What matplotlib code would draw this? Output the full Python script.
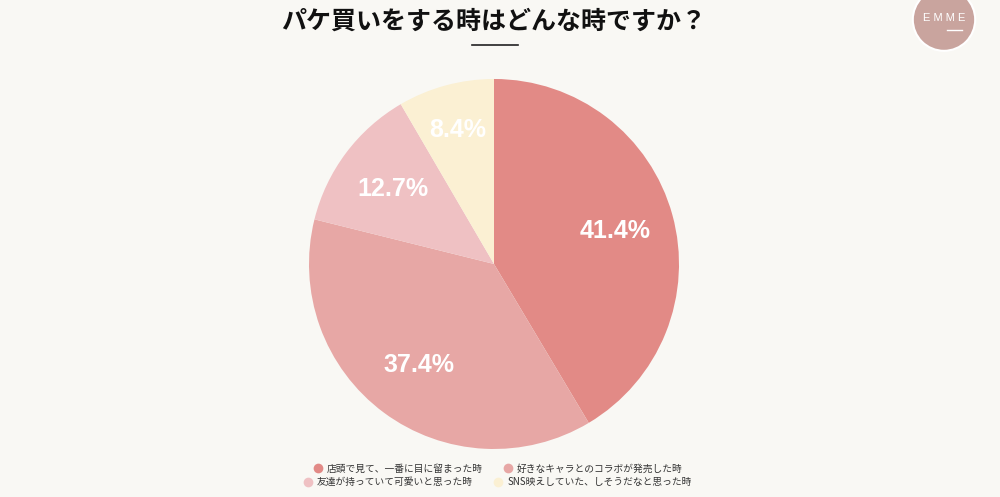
import numpy as np
import matplotlib.pyplot as plt
from matplotlib.lines import Line2D
from matplotlib.patches import Circle

plt.rcParams['font.family'] = ['Noto Sans CJK JP', 'DejaVu Sans']

title = 'パケ買いをする時はどんな時ですか？'
labels = ['店頭で見て、一番に目に留まった時', '好きなキャラとのコラボが発売した時',
          '友達が持っていて可愛いと思った時', 'SNS映えしていた、しそうだなと思った時']
values = [41.4, 37.4, 12.7, 8.4]
colors = ['#E28A86', '#E7A7A5', '#EFC1C3', '#FBF0D3']
bg = '#F9F8F4'

fig = plt.figure(figsize=(10, 4.97), dpi=100, facecolor=bg)

# pie
ax = fig.add_axes([0.309, 0.0966, 0.37, 0.7445])
wedges, texts, autotexts = ax.pie(values, colors=colors, startangle=90, counterclock=False,
                                  autopct='%.1f%%', pctdistance=0.68,
                                  wedgeprops=dict(linewidth=0))
for t in autotexts:
    t.set_color('white')
    t.set_fontsize(18)
    t.set_fontweight('bold')
    t.set_family(['Liberation Sans', 'DejaVu Sans'])
# small slice label sits a bit further out
x, y = autotexts[3].get_position()
autotexts[3].set_position((x * 1.1, y * 1.1))
ax.set_xlim(-1, 1)
ax.set_ylim(-1, 1)
ax.set_aspect('equal')

# title and rule under it
fig.text(0.494, 0.957, title, ha='center', va='center', fontsize=18, fontweight='bold', color='#111111')
fig.add_artist(Line2D([0.472, 0.518], [0.909, 0.909], color='#222222', lw=1.2))

# legend, two centred rows
def make_handles(idx):
    return [Line2D([], [], marker='o', ls='', markersize=7, markerfacecolor=colors[i],
                   markeredgecolor='none', label=labels[i]) for i in idx]

leg1 = fig.legend(handles=make_handles([0, 1]), ncol=2, loc='center', bbox_to_anchor=(0.497, 0.057),
                  frameon=False, fontsize=7, handletextpad=0.3, columnspacing=2.0, handlelength=1.2)
for t in leg1.get_texts():
    t.set_color('#333333')
leg2 = fig.legend(handles=make_handles([2, 3]), ncol=2, loc='center', bbox_to_anchor=(0.497, 0.030),
                  frameon=False, fontsize=7, handletextpad=0.3, columnspacing=2.0, handlelength=1.2)
for t in leg2.get_texts():
    t.set_color('#333333')

# logo
lax = fig.add_axes([0.904, 0.880, 0.08, 0.161])
lax.set_xlim(-1, 1)
lax.set_ylim(-1, 1)
lax.set_aspect('equal')
lax.axis('off')
lax.add_patch(Circle((0, 0), 0.78, facecolor='#C9A49E', edgecolor='white', lw=1.5))
lax.text(0, 0.03, 'E M M E', ha='center', va='center', color='white', fontsize=8,
         family=['Liberation Sans', 'DejaVu Sans'])
lax.plot([0.07, 0.45], [-0.25, -0.25], color='white', lw=1)

fig.savefig('out.png', dpi=100, facecolor=bg)
